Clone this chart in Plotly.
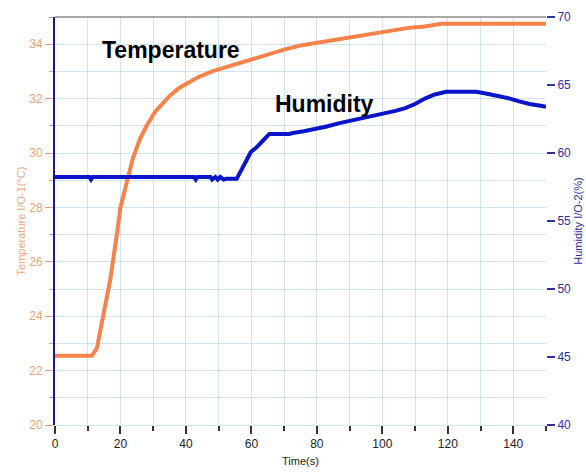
import plotly.graph_objects as go

# Temperature series (°C)
temp_t = [0, 11.3, 12.8, 14.5, 16.8, 18.9, 20.0, 22.3, 23.8, 25.9, 28.0, 30.5, 33.0, 35.0, 38.0, 41.0, 44.0, 48.0, 52.0, 56.0, 59.5, 64.0, 70.0, 75.0, 80.0, 85.0, 90.0, 95.0, 99.0, 105.0, 108.0, 113.0, 115.0, 118.0, 130.0, 140.0, 150.0]
temp_v = [22.55, 22.55, 22.83, 23.9, 25.3, 27.0, 28.0, 29.1, 29.8, 30.5, 31.0, 31.5, 31.85, 32.1, 32.4, 32.6, 32.8, 33.0, 33.15, 33.3, 33.4, 33.6, 33.8, 33.95, 34.05, 34.15, 34.25, 34.35, 34.45, 34.55, 34.6, 34.65, 34.7, 34.75, 34.75, 34.75, 34.75]

# Humidity series (%)
hum_t = [0, 10.5, 11.0, 11.5, 42.5, 43.0, 43.5, 47.5, 48.0, 49.0, 49.7, 50.5, 51.5, 52.4, 55.5, 57.3, 58.8, 59.8, 61.5, 63.5, 65.5, 71.6, 72.6, 76.0, 79.8, 83.0, 86.9, 91.0, 95.0, 101.0, 104.0, 107.0, 110.0, 113.0, 116.0, 119.5, 128.7, 132.0, 135.7, 139.0, 141.8, 145.0, 148.8, 150.0]
hum_v = [58.24, 58.24, 58.05, 58.24, 58.24, 58.05, 58.24, 58.24, 58.05, 58.24, 58.05, 58.24, 58.05, 58.1, 58.1, 59.0, 59.6, 60.07, 60.4, 60.9, 61.4, 61.4, 61.47, 61.6, 61.76, 61.95, 62.2, 62.4, 62.6, 62.9, 63.1, 63.3, 63.6, 64.0, 64.3, 64.5, 64.5, 64.35, 64.2, 64.0, 63.8, 63.6, 63.45, 63.4]

x_ticks = [0, 20, 40, 60, 80, 100, 120, 140]
temp_ticks = [20, 22, 24, 26, 28, 30, 32, 34]
hum_ticks = [40, 45, 50, 55, 60, 65, 70]

FONT = "Liberation Sans, Arial, sans-serif"
ORANGE = "#F5834A"
BLUE = "#0A14C8"
GRID = "#CFE3F0"

fig = go.Figure()
fig.add_trace(go.Scatter(x=temp_t, y=temp_v, mode="lines",
                         line=dict(color=ORANGE, width=4), yaxis="y", showlegend=False))
fig.add_trace(go.Scatter(x=hum_t, y=hum_v, mode="lines",
                         line=dict(color=BLUE, width=4), yaxis="y2", showlegend=False))

fig.update_layout(
    width=586, height=472,
    margin=dict(l=55, r=40, t=17, b=47),
    paper_bgcolor="white", plot_bgcolor="white",
    font=dict(family=FONT, size=12, color="#222"),
    xaxis=dict(range=[0, 150], tickvals=x_ticks, ticks="outside", ticklen=8,
               tickcolor="#333", tickwidth=1.5, showgrid=True, gridcolor=GRID,
               minor=dict(dtick=10, ticks="outside", ticklen=5, tickcolor="#333",
                          showgrid=True, gridcolor=GRID),
               showline=True, linecolor=GRID, linewidth=1, zeroline=False,
               automargin=False,
               title=dict(text="Time(s)", font=dict(size=11, color="#222"), standoff=6),
               tickfont=dict(size=12, color="#222")),
    yaxis=dict(range=[20, 35], tickvals=temp_ticks, ticks="outside", ticklen=8,
               tickcolor="#E0A080", showgrid=True, gridcolor=GRID,
               minor=dict(dtick=1, ticks="outside", ticklen=4, tickcolor="#E0A080",
                          showgrid=True, gridcolor=GRID),
               showline=True, linecolor="#1a1a8c", linewidth=2, zeroline=False,
               automargin=False,
               tickfont=dict(size=12, color="#E8A27A"),
               title=dict(text="Temperature I/O-1(°C)", font=dict(size=11, color="#EFA57A"), standoff=1)),
    yaxis2=dict(range=[40, 70], tickvals=hum_ticks, overlaying="y", side="right",
                ticks="outside", ticklen=8, tickwidth=1.5, tickcolor="#3030A0", showgrid=False,
                zeroline=False, showline=False, automargin=False,
                tickfont=dict(size=12, color="#3030A0"),
                title=dict(text="Humidity I/O-2(%)", font=dict(size=11, color="#2828A0"), standoff=4)),
    shapes=[dict(type="line", xref="paper", yref="paper", x0=0, x1=1, y0=1, y1=1,
                 line=dict(color="#A8A8A8", width=2))],
    annotations=[
        dict(text="<b>Temperature</b>", x=13.7, y=33.8, xref="x", yref="y", showarrow=False,
             font=dict(size=23, color="black", family=FONT), xanchor="left", yanchor="middle"),
        dict(text="<b>Humidity</b>", x=66.5, y=31.8, xref="x", yref="y", showarrow=False,
             font=dict(size=23, color="black", family=FONT), xanchor="left", yanchor="middle"),
    ],
)

fig.write_html("out.html", config={"displayModeBar": False})
with open("out.html", "r", encoding="utf-8") as f:
    html = f.read()
html = html.replace("<head>", "<head><style>html,body{margin:0;padding:0;overflow:hidden;}</style>", 1)
with open("out.html", "w", encoding="utf-8") as f:
    f.write(html)
